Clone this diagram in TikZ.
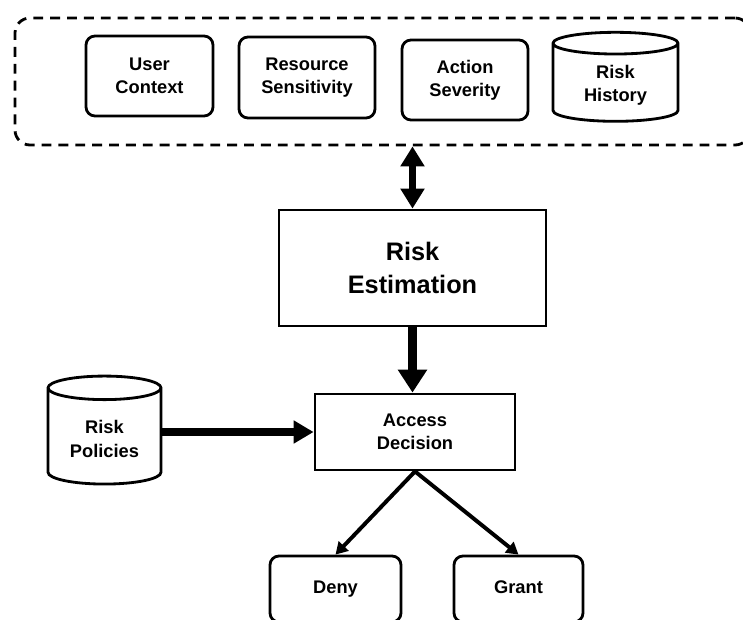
\documentclass[tikz,border=0pt]{standalone}
\usepackage{fontspec}
\setmainfont{Liberation Sans}
\usepackage{tikz}
\usetikzlibrary{shapes,arrows.meta,positioning,calc}

\newlength\px
\setlength\px{0.025cm}

\tikzset{
    txt/.style={align=center, font=\bfseries\fontsize{13}{16.5}\selectfont},
    inbox/.style={draw, line width=2pt, rounded corners=9\px, txt},
    mainbox/.style={draw, line width=2pt, txt},
    store/.style={draw, line width=2pt, cylinder, shape border rotate=90, aspect=0.3, txt},
    flow/.style={line width=5pt, arrows={-Triangle[length=14.2pt, width=15.6pt]}},
    twoflow/.style={line width=4.5pt, arrows={Triangle[length=14.2pt, width=16.4pt]-Triangle[length=14.2pt, width=16.4pt]}},
    bigflow/.style={line width=6pt, arrows={-Triangle[length=16.4pt, width=20pt]}},
    thinflow/.style={line width=2.8pt, arrows={-Triangle[length=8.5pt, width=9.5pt]}}
}

\begin{document}
\begin{tikzpicture}[x=1\px, y=-1\px]
        \useasboundingbox (0,0) rectangle (743,619);

        % Context group
        \node[draw, line width=2pt, dash pattern=on 7pt off 5pt, rounded corners=15\px,
              minimum width=735\px, minimum height=127\px] (ctx) at (382.5,81.5) {};
        \node[inbox, minimum width=127\px, minimum height=80\px] (usr) at (149.5,76) {User\\Context};
        \node[inbox, minimum width=136\px, minimum height=81\px] (res) at (307,77.5) {Resource\\Sensitivity};
        \node[inbox, minimum width=126\px, minimum height=80\px] (act) at (465,80) {Action\\Severity};
        \node[store, minimum width=125\px, minimum height=89\px] (hist) at (615.5,85) {Risk\\History};

        % Estimation and decision
        \node[mainbox, minimum width=267\px, minimum height=116\px,
              font=\bfseries\fontsize{18}{23.2}\selectfont] (est) at (412.5,268) {Risk\\Estimation};
        \node[mainbox, minimum width=200\px, minimum height=76\px] (dec) at (415,432) {Access\\Decision};
        \node[store, minimum width=113\px, minimum height=108\px] (pol) at (104.5,439) {Risk\\Policies};

        % Outcomes (cut by the page edge)
        \node[inbox, minimum width=131\px, minimum height=66\px, text height=1.5ex, text depth=.3ex] (deny) at (335.5,589) {Deny};
        \node[inbox, minimum width=129\px, minimum height=66\px, text height=1.5ex, text depth=.3ex] (grant) at (518.5,589) {Grant};

        % Arrows
        \draw[twoflow] (est.north) -- (est.north |- ctx.south);
        \draw[bigflow] (est.south) -- (est.south |- dec.north);
        \draw[flow] (pol.east |- dec.west) -- (dec.west);
        \draw[thinflow] (dec.south) -- (deny.north);
        \draw[thinflow] (dec.south) -- (grant.north);
    \end{tikzpicture}
\end{document}
